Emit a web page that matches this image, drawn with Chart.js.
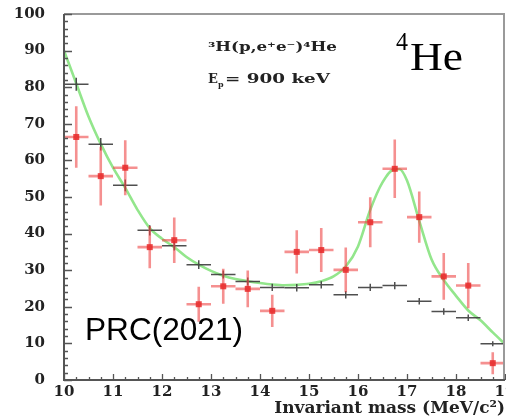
<!DOCTYPE html>
<html><head><meta charset="utf-8">
<script src="https://cdn.jsdelivr.net/npm/chart.js@4"></script>
<style>html,body{margin:0;padding:0;background:#fff}#wrap{width:506px;height:419px}</style>
</head><body><div id="wrap"><canvas id="c" width="506" height="419"></canvas></div>
<script>
// ---- data ----
const binCenters = [10.25,10.75,11.25,11.75,12.25,12.75,13.25,13.75,14.25,14.75,15.25,15.75,16.25,16.75,17.25,17.75,18.25,18.75];
const redValues  = [66.4,55.7,58.0,36.3,38.2,20.7,25.6,24.9,18.9,35.0,35.5,30.1,43.1,57.7,44.5,28.3,25.8,4.6];
const redErrors  = [8.4,8.0,7.5,5.8,6.2,4.8,4.8,5.0,4.4,5.9,6.0,6.1,6.8,8.0,7.0,6.4,6.2,3.0];
const blackValues = [80.8,64.4,53.2,40.9,36.7,31.5,28.8,26.9,25.3,25.2,26.0,23.3,25.3,25.8,21.5,18.7,17.0,9.9];
const blackErrors = [1.8,1.7,1.6,1.4,1.3,1.2,1.1,1.1,1.0,1.0,1.0,1.0,1.0,1.0,0.9,0.9,0.9,0.7];
const binHalfWidth = 0.25;
const curveX = [10.0,10.25,10.5,10.75,11.0,11.25,11.5,11.75,12.0,12.25,12.5,12.75,13.0,13.25,13.5,13.75,14.0,14.25,14.5,14.75,15.0,15.25,15.5,15.75,16.0,16.25,16.5,16.75,16.85,17.0,17.25,17.5,17.75,18.0,18.25,18.5,18.75,19.0];
const curveY = [90,81,72,64.5,58,52.5,46.5,41.5,38.6,36.3,33.6,31.5,29.8,28.5,27.6,27.0,26.5,26.1,25.9,26.0,26.3,27.0,28.3,31.0,36.5,46.5,54.0,57.6,57.6,54.5,43.5,33.0,27.3,23.0,19.0,16.3,13.0,9.8];
const xTickLabels = [10,11,12,13,14,15,16,17,18,19];
const yTickLabels = [0,10,20,30,40,50,60,70,80,90,100];

// ---- plugins ----
const framePlugin = {
  id: 'frame',
  afterDatasetsDraw(chart) {
    const {ctx, chartArea: a, scales: {x, y}} = chart;
    ctx.save();
    ctx.lineCap = 'butt';
    ctx.strokeStyle = 'rgba(60,60,60,0.9)';
    ctx.lineWidth = 1.5;
    binCenters.forEach((c, i) => {
      const py = y.getPixelForValue(blackValues[i]);
      ctx.beginPath();
      ctx.moveTo(x.getPixelForValue(c - binHalfWidth), py);
      ctx.lineTo(x.getPixelForValue(c + binHalfWidth), py);
      const px = x.getPixelForValue(c);
      ctx.moveTo(px, y.getPixelForValue(blackValues[i] + blackErrors[i]));
      ctx.lineTo(px, y.getPixelForValue(blackValues[i] - blackErrors[i]));
      ctx.stroke();
    });
    ctx.strokeStyle = 'rgba(238,70,70,0.6)';
    ctx.lineWidth = 2.6;
    binCenters.forEach((c, i) => {
      const py = y.getPixelForValue(redValues[i]);
      const px = x.getPixelForValue(c);
      ctx.beginPath();
      ctx.moveTo(x.getPixelForValue(c - binHalfWidth), py);
      ctx.lineTo(x.getPixelForValue(c + binHalfWidth), py);
      ctx.moveTo(px, y.getPixelForValue(redValues[i] + redErrors[i]));
      ctx.lineTo(px, y.getPixelForValue(redValues[i] - redErrors[i]));
      ctx.stroke();
    });
    ctx.fillStyle = 'rgba(232,40,40,0.85)';
    binCenters.forEach((c, i) => {
      const px = x.getPixelForValue(c), py = y.getPixelForValue(redValues[i]);
      ctx.fillRect(px - 3, py - 3, 6, 6);
    });
    // frame
    ctx.strokeStyle = '#9a9a9a';
    ctx.lineWidth = 2;
    ctx.beginPath();
    ctx.moveTo(a.left, a.top); ctx.lineTo(a.right - 1, a.top); ctx.lineTo(a.right - 1, a.bottom);
    ctx.stroke();
    ctx.strokeStyle = '#555';
    ctx.beginPath();
    ctx.moveTo(a.left, a.top); ctx.lineTo(a.left, a.bottom); ctx.lineTo(a.right, a.bottom);
    ctx.stroke();
    // inside ticks
    ctx.lineWidth = 1.3;
    ctx.beginPath();
    for (let v = 0; v <= 100; v += 2) {
      const py = Math.round(y.getPixelForValue(v)) + 0.5;
      const len = v % 10 === 0 ? 8 : 4;
      ctx.moveTo(a.left, py); ctx.lineTo(a.left + len, py);
    }
    for (let v = 10; v <= 19.001; v += 0.25) {
      const px = Math.round(x.getPixelForValue(v)) + 0.5;
      const len = Math.abs(v - Math.round(v)) < 1e-6 ? 6 : 3;
      ctx.moveTo(px, a.bottom); ctx.lineTo(px, a.bottom - len);
    }
    ctx.stroke();
    // annotations
    ctx.textBaseline = 'alphabetic';
    const fit = (t, px, py, font, w) => {
      ctx.save(); ctx.font = font;
      const m = ctx.measureText(t).width;
      ctx.translate(px, py); ctx.scale(w ? w / m : 1, 1);
      ctx.fillText(t, 0, 0); ctx.restore();
    };
    ctx.fillStyle = '#222';
    fit('\u00B3H(p,e\u207Ae\u207B)\u2074He', 208, 51, 'bold 13px "DejaVu Serif"', 129);
    ctx.save(); ctx.font = 'bold 13px "DejaVu Serif"';
    ctx.translate(208, 83);
    ctx.fillText('E', 0, 0);
    const ew = ctx.measureText('E').width;
    ctx.font = 'bold 8px "DejaVu Serif"';
    ctx.fillText('p', ew, 4);
    ctx.restore();
    fit('= 900 keV', 225, 83, 'bold 13px "DejaVu Serif"', 105);
    ctx.fillStyle = '#000';
    fit('4', 396, 50, '26px "Liberation Serif"', 12);
    fit('He', 410, 70, '40px "Liberation Serif"', 53);
    fit('PRC(2021)', 85, 340, '32px "Liberation Sans"', 158);
    ctx.restore();
  }
};

const tickFont = {family: '"DejaVu Serif"', weight: 'bold', size: 15};
new Chart(document.getElementById('c'), {
  type: 'scatter',
  data: {
    datasets: [
      {data: curveX.map((v, i) => ({x: v, y: curveY[i]})), showLine: true, borderColor: '#93e68c', borderWidth: 2.6, pointRadius: 0, cubicInterpolationMode: 'monotone', fill: false},
      {data: binCenters.map((v, i) => ({x: v, y: blackValues[i]})), pointRadius: 0},
      {data: binCenters.map((v, i) => ({x: v, y: redValues[i]})), pointRadius: 0}
    ]
  },
  options: {
    responsive: false, animation: false, events: [],
    layout: {padding: {top: 14, right: 1, left: 0, bottom: 0}},
    plugins: {legend: {display: false}, tooltip: {enabled: false}},
    scales: {
      x: {
        type: 'linear', min: 10, max: 19,
        afterBuildTicks: s => { s.ticks = xTickLabels.map(v => ({value: v})); },
        afterFit: s => { s.height = 39; s.paddingRight = 0; s.paddingLeft = 0; },
        grid: {display: true, drawOnChartArea: false, drawTicks: false},
        border: {display: false},
        ticks: {font: tickFont, color: '#222', padding: 3, maxRotation: 0, autoSkip: false, callback: v => String(v)},
        title: {display: true, text: 'Invariant mass (MeV/c\u00B2)', align: 'end', color: '#222', padding: {top: -1, bottom: 0}, font: {family: '"DejaVu Serif"', weight: 'bold', size: 17}}
      },
      y: {
        type: 'linear', min: 0, max: 100,
        afterBuildTicks: s => { s.ticks = yTickLabels.map(v => ({value: v})); },
        afterFit: s => { s.width = 64; s.paddingTop = 0; s.paddingBottom = 0; },
        grid: {display: true, drawOnChartArea: false, drawTicks: false},
        border: {display: false},
        ticks: {font: tickFont, color: '#222', padding: 19, autoSkip: false, callback: v => String(v)}
      }
    }
  },
  plugins: [framePlugin]
});
</script></body></html>
